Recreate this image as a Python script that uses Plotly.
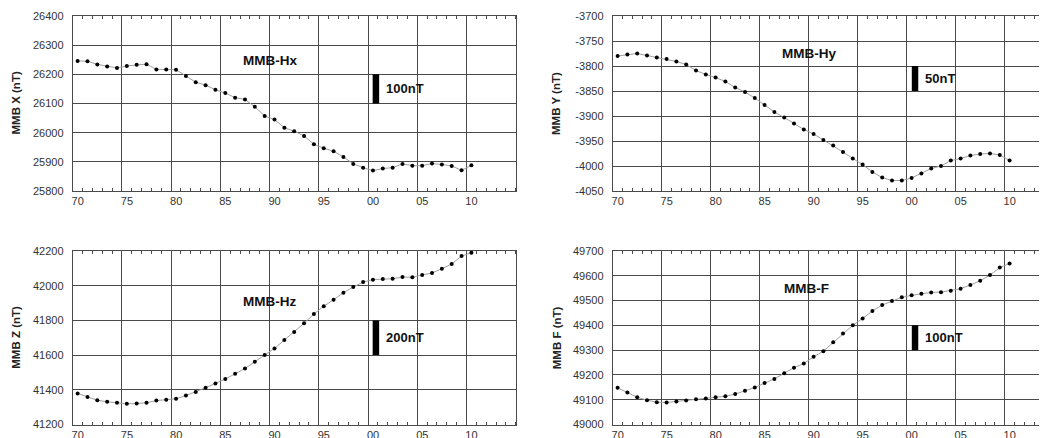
import plotly.graph_objects as go

years = [1970.5 + i for i in range(41)]

hx = [26246, 26245, 26234, 26227, 26222, 26229, 26233, 26235, 26217, 26217,
      26216, 26194, 26173, 26163, 26147, 26136, 26120, 26114, 26089, 26057,
      26045, 26017, 26005, 25989, 25960, 25947, 25936, 25917, 25893, 25880,
      25870, 25877, 25880, 25893, 25887, 25887, 25894, 25891, 25886, 25871,
      25888]
hy = [-3780, -3777, -3775, -3779, -3783, -3786, -3791, -3797, -3809, -3817,
      -3823, -3831, -3843, -3852, -3864, -3878, -3892, -3903, -3915, -3927,
      -3936, -3948, -3959, -3972, -3985, -3997, -4012, -4023, -4029, -4029,
      -4024, -4015, -4005, -4000, -3989, -3985, -3979, -3976, -3975, -3978,
      -3989]
hz = [41379, 41358, 41340, 41331, 41325, 41319, 41321, 41325, 41338, 41342,
      41348, 41367, 41388, 41412, 41437, 41462, 41492, 41523, 41562, 41600,
      41638, 41687, 41733, 41783, 41837, 41881, 41919, 41960, 41992, 42021,
      42035, 42038, 42040, 42050, 42048, 42062, 42073, 42098, 42125, 42171,
      42190]
ff = [49148, 49129, 49110, 49098, 49090, 49089, 49093, 49097, 49102, 49105,
      49110, 49114, 49123, 49136, 49149, 49167, 49184, 49207, 49229, 49246,
      49273, 49296, 49332, 49367, 49400, 49428, 49458, 49482, 49498, 49513,
      49521, 49528, 49533, 49534, 49540, 49548, 49563, 49580, 49603, 49633,
      49650]

tick_years = [1970, 1975, 1980, 1985, 1990, 1995, 2000, 2005, 2010]
tick_text = ["70", "75", "80", "85", "90", "95", "00", "05", "10"]

panel_names = ["MMB-Hx", "MMB-Hy", "MMB-Hz", "MMB-F"]
axis_titles = ["MMB X (nT)", "MMB Y (nT)", "MMB Z (nT)", "MMB F (nT)"]
y_ranges = [[25800, 26400], [-4050, -3700], [41200, 42200], [49000, 49700]]
y_dticks = [100, 50, 200, 100]
name_pos = [(1990.0, 26249), (1990.0, -3776), (1990.0, 41911), (1989.8, 49549)]
bar_x = [2000.8, 2000.85, 2000.8, 2000.85]
bar_ranges = [[26100, 26200], [-3850, -3800], [41600, 41800], [49300, 49400]]
bar_labels = ["100nT", "50nT", "200nT", "100nT"]
series = [hx, hy, hz, ff]

# page has an 8px body margin; figure sized to fill the rest of the window
OFF = 8
W, H = 1047 - OFF, 438 - OFF


def px_x(p):
    return (p - OFF) / W


def px_y(p):
    return 1 - (p - OFF) / H


x_domains = [[px_x(72.7), px_x(515.7)], [px_x(612.7), 1.0]]
x_ranges = [[1970, 2015], [1970, 1970 + (1047 - 612.7) / 9.8]]
y_domains = [[px_y(191), px_y(16)], [px_y(424.5), px_y(251)]]

GRID = "#4a4a4a"
FONT = "Liberation Sans, Arial"
fig = go.Figure()
layout = {}
annotations = []
shapes = []
for i in range(4):
    col = i % 2
    row = i // 2
    s = "" if i == 0 else str(i + 1)
    lo, hi = y_ranges[i]
    yvals = list(range(lo, hi + 1, y_dticks[i]))
    ytext = [str(v) for v in yvals]
    fig.add_trace(go.Scatter(
        x=years, y=series[i], mode="lines+markers",
        line=dict(color="#a0a0a0", width=1),
        marker=dict(color="black", size=4),
        xaxis="x" + s, yaxis="y" + s, showlegend=False))
    layout["xaxis" + s] = dict(
        domain=x_domains[col], range=x_ranges[col], anchor="y" + s,
        tickvals=tick_years, ticktext=tick_text, ticks="",
        showgrid=True, gridcolor=GRID, gridwidth=1,
        showline=True, linecolor=GRID, linewidth=1, mirror="allticks",
        minor=dict(dtick=1, tick0=1970, ticks="inside", ticklen=3,
                   tickcolor=GRID, showgrid=False),
        tickfont=dict(family=FONT, size=11, color="#333"),
        ticklabelstandoff=0, ticklabelshift=5, zeroline=False,
        automargin=False, fixedrange=True)
    layout["yaxis" + s] = dict(
        domain=y_domains[row], range=y_ranges[i], anchor="x" + s,
        tickvals=yvals, ticktext=ytext, ticks="",
        showgrid=True, gridcolor=GRID, gridwidth=1,
        showline=True, linecolor=GRID, linewidth=1,
        mirror=True if col == 0 else False,
        tickfont=dict(family=FONT, size=11, color="#333"),
        ticklabelstandoff=6, zeroline=False, automargin=False, fixedrange=True)
    ax_x = px_x(16 if col == 0 else 556.5)
    ax_y = (y_domains[row][0] + y_domains[row][1]) / 2
    annotations.append(dict(
        text="<b>" + axis_titles[i] + "</b>", xref="paper", yref="paper",
        x=ax_x, y=ax_y, textangle=-90, showarrow=False,
        font=dict(family=FONT, size=11.5, color="#222"),
        xanchor="center", yanchor="middle"))
    annotations.append(dict(
        text="<b>" + panel_names[i] + "</b>", xref="x" + s, yref="y" + s,
        x=name_pos[i][0], y=name_pos[i][1], showarrow=False,
        font=dict(family=FONT, size=13.5, color="#111"),
        xanchor="center", yanchor="middle"))
    shapes.append(dict(
        type="rect", xref="x" + s, yref="y" + s,
        x0=bar_x[i] - 0.33, x1=bar_x[i] + 0.33,
        y0=bar_ranges[i][0], y1=bar_ranges[i][1],
        fillcolor="black", line=dict(width=0)))
    annotations.append(dict(
        text="<b>" + bar_labels[i] + "</b>", xref="x" + s, yref="y" + s,
        x=bar_x[i] + 0.85, y=(bar_ranges[i][0] + bar_ranges[i][1]) / 2,
        showarrow=False, xanchor="left", yanchor="middle",
        font=dict(family=FONT, size=13, color="#111")))

fig.update_layout(
    width=W, height=H, margin=dict(l=0, r=0, t=0, b=0),
    paper_bgcolor="white", plot_bgcolor="white",
    annotations=annotations, shapes=shapes, **layout)

fig.write_html("out.html")
